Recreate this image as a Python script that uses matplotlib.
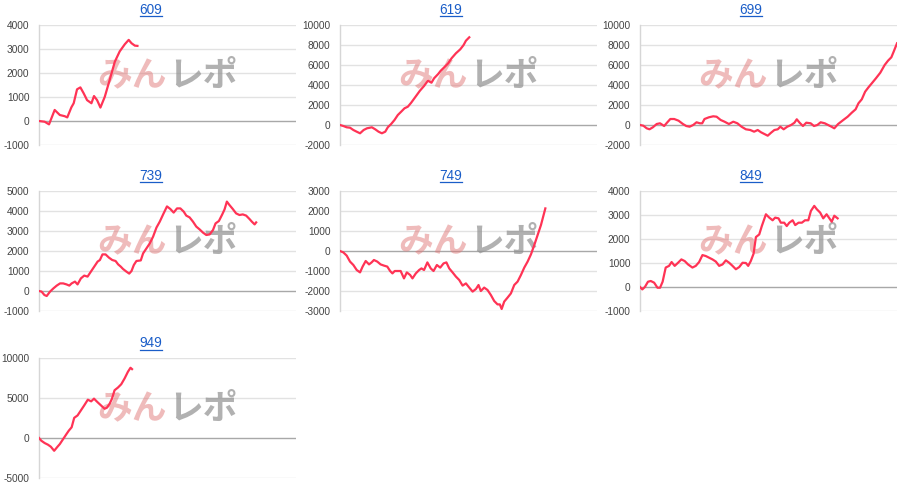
import numpy as np
import matplotlib.pyplot as plt
from matplotlib.lines import Line2D

plt.rcParams['font.family'] = ['Liberation Sans', 'DejaVu Sans']
plt.rcParams['axes.unicode_minus'] = False

# 台番号ごとの差枚推移 (x: 0-100 の相対ゲーム位置)
titles = ["609", "619", "699", "739", "749", "849", "949"]

x_609 = [0, 2.2, 3.9, 6.1, 8.1, 10.0, 11.0, 12.6, 13.5, 14.8, 16.1, 17.4, 18.7,
         20.4, 21.4, 22.6, 23.9, 25.6, 27.5, 29.5, 31.4, 33.4, 34.9, 36.0, 37.3, 38.3]
y_609 = [0, -30, -140, 460, 250, 200, 150, 570, 740, 1320, 1400, 1150, 870,
         740, 1040, 870, 560, 1010, 1710, 2470, 2900, 3200, 3380, 3240, 3140, 3130]

x_619 = [0, 1.3, 2.6, 3.9, 5.2, 6.5, 7.8, 9.2, 10.5, 12.4, 13.7, 15.0, 16.3, 17.6,
         18.6, 19.9, 21.2, 22.5, 23.8, 25.1, 26.4, 27.7, 29.4, 31.1, 32.7, 34.2,
         35.6, 36.6, 38.2, 39.2, 40.8, 42.1, 43.4, 45.1, 46.8, 48.1, 49.0, 50.3]
y_619 = [0, -100, -230, -270, -500, -670, -830, -500, -330, -230, -430, -670, -830, -670,
         -230, 100, 500, 1000, 1330, 1670, 1830, 2230, 2830, 3430, 3900, 4430,
         4230, 4670, 5100, 5430, 5830, 6170, 6670, 7170, 7570, 8000, 8430, 8770]

x_699 = [0, 1.3, 2.6, 3.7, 5.0, 6.5, 7.8, 9.4, 10.5, 11.8, 13.3, 15.0, 16.7, 18.0,
         19.3, 20.7, 22.0, 23.3, 24.2, 25.1, 26.8, 28.5, 29.8, 31.4, 32.9, 34.6,
         36.3, 37.9, 39.5, 41.2, 42.9, 44.4, 45.8, 47.1, 48.4, 49.7, 51.0, 52.3,
         53.6, 54.6, 55.9, 57.3, 58.8, 60.1, 61.0, 62.1, 63.4, 64.7, 66.4, 67.7,
         69.0, 70.3, 71.9, 73.2, 74.5, 75.6, 77.1, 79.1, 80.8, 82.4, 83.9, 85.0,
         86.3, 87.6, 88.9, 90.2, 91.8, 93.5, 95.2, 96.5, 97.8, 98.7, 100]
y_699 = [0, -70, -330, -430, -230, 100, 170, -100, 230, 600, 600, 430, 100, -100,
         -170, 0, 270, 170, 170, 600, 770, 870, 830, 500, 330, 100,
         330, 170, -170, -430, -500, -670, -500, -730, -900, -1070, -770, -500,
         -430, -170, -430, -170, 0, 230, 570, 230, -100, 230, 170, -100,
         0, 270, 170, 0, -170, -330, 100, 500, 830, 1230, 1570, 2170,
         2570, 3330, 3770, 4170, 4670, 5230, 6000, 6430, 6770, 7330, 8170]

x_739 = [0, 1.0, 2.1, 3.0, 4.3, 5.6, 6.9, 8.2, 9.4, 10.7, 11.8, 12.7, 14.0, 15.0,
         16.3, 17.6, 18.9, 20.2, 21.5, 22.8, 23.7, 24.7, 25.9, 27.2, 28.5, 29.8,
         30.8, 31.8, 32.7, 34.0, 35.1, 36.0, 36.9, 37.9, 39.6, 40.5, 41.8, 43.1,
         44.4, 45.7, 47.0, 48.3, 49.8, 51.1, 52.4, 53.7, 55.0, 56.3, 57.3, 58.6,
         59.9, 61.2, 62.5, 63.8, 65.1, 66.4, 67.7, 68.7, 70.0, 71.3, 72.2, 73.1,
         74.1, 75.4, 76.7, 78.0, 79.3, 80.6, 81.9, 82.8, 83.9, 84.5]
y_739 = [0, -30, -200, -250, -30, 130, 270, 380, 380, 330, 270, 380, 470, 330,
         630, 770, 720, 970, 1220, 1470, 1550, 1830, 1830, 1670, 1550, 1500,
         1330, 1220, 1100, 970, 870, 1000, 1300, 1500, 1530, 1880, 2130, 2380,
         2720, 3170, 3470, 3830, 4230, 4100, 3920, 4130, 4130, 3970, 3770, 3680,
         3470, 3220, 3080, 2920, 2800, 2830, 3050, 3380, 3500, 3830, 4080, 4470,
         4300, 4100, 3880, 3800, 3830, 3770, 3600, 3470, 3330, 3430]

x_749 = [0, 1.3, 2.6, 3.9, 5.2, 6.5, 7.8, 8.8, 10.0, 11.3, 12.3, 13.2, 14.5, 15.8,
         17.1, 18.4, 19.5, 20.4, 21.3, 22.6, 23.6, 24.9, 26.0, 27.3, 28.2, 29.5,
         30.8, 31.7, 32.7, 34.0, 35.3, 36.4, 37.7, 39.0, 40.3, 41.4, 42.5, 43.8,
         45.1, 46.4, 47.7, 49.0, 50.3, 51.6, 52.9, 53.9, 54.8, 56.1, 57.4, 58.7,
         60.0, 61.3, 62.2, 62.9, 63.9, 65.2, 66.5, 67.8, 69.1, 70.4, 71.7, 73.0,
         74.3, 75.6, 76.9, 78.2, 79.9]
y_749 = [0, -70, -230, -530, -700, -950, -1070, -780, -500, -670, -570, -450, -530, -670,
         -730, -780, -1000, -1120, -1000, -1000, -1000, -1370, -1070, -1200, -1370, -1120,
         -950, -870, -950, -570, -870, -1000, -700, -830, -620, -570, -870, -1070,
         -1280, -1450, -1730, -1620, -1830, -2030, -1900, -1700, -2000, -1830, -1950, -2200,
         -2500, -2670, -2670, -2900, -2530, -2330, -2120, -1700, -1530, -1200, -830, -530,
         -170, 300, 800, 1300, 2130]

x_849 = [0, 0.9, 1.9, 3.1, 4.2, 5.5, 6.8, 7.8, 8.8, 10.0, 11.3, 12.3, 13.5, 14.8,
         16.1, 17.4, 18.7, 20.4, 21.7, 23.0, 24.3, 25.6, 26.9, 28.2, 29.5, 30.8,
         32.1, 33.4, 34.7, 36.0, 37.3, 38.6, 39.9, 41.2, 42.1, 43.1, 44.2, 45.1,
         46.4, 47.4, 49.0, 50.3, 51.6, 52.6, 53.9, 54.8, 56.1, 57.1, 58.1, 59.4,
         60.4, 61.7, 63.0, 64.2, 65.5, 66.5, 67.8, 68.8, 70.1, 71.3, 72.6, 73.7,
         74.6, 75.6, 76.9]
y_849 = [0, -100, 0, 220, 250, 180, -30, -30, 220, 810, 880, 1040, 880, 1010,
         1150, 1080, 940, 810, 880, 1040, 1330, 1290, 1220, 1150, 1060, 880,
         940, 1110, 1010, 880, 740, 830, 1010, 1000, 880, 1080, 1390, 2080,
         2190, 2540, 3030, 2890, 2780, 2890, 2860, 2680, 2680, 2540, 2680, 2780,
         2580, 2680, 2680, 2780, 2780, 3170, 3380, 3240, 3100, 2860, 3030, 2860,
         2720, 2970, 2860]

x_949 = [0, 0.9, 2.2, 3.5, 4.6, 5.9, 7.2, 8.1, 9.4, 10.7, 11.6, 12.7, 13.7, 15.0,
         16.3, 17.6, 19.0, 20.3, 21.4, 22.7, 24.1, 25.5, 26.4, 27.5, 28.4, 29.4,
         30.7, 32.0, 33.3, 34.6, 35.6, 36.2]
y_949 = [0, -340, -630, -840, -1090, -1600, -1090, -760, -130, 500, 920, 1340, 2520, 2820,
         3450, 4080, 4790, 4580, 4920, 4500, 4080, 3660, 3780, 4290, 4920, 5970,
         6300, 6720, 7440, 8280, 8780, 8610]

xs = [x_609, x_619, x_699, x_739, x_749, x_849, x_949]
ys = [y_609, y_619, y_699, y_739, y_749, y_849, y_949]

# y軸の範囲と目盛り間隔
y_ranges = [(-1000, 4000, 1000), (-2000, 10000, 2000), (-2000, 10000, 2000),
            (-1000, 5000, 1000), (-3000, 3000, 1000), (-1000, 4000, 1000),
            (-5000, 10000, 5000)]

W, H = 900, 498
fig = plt.figure(figsize=(W / 100, H / 100), dpi=100)

col_left = [39, 340, 640]
row_top = [25, 191, 358]
title_y = [10, 176, 343]
aw, ah = 257, 120

line_color = "#ff3355"
link_color = "#1a5dc8"
wm_font = ["Noto Sans CJK JP", "DejaVu Sans"]

title_texts = []
for i, name in enumerate(titles):
    r, c = divmod(i, 3)
    left = col_left[c]
    top = row_top[r]
    ax = fig.add_axes([left / W, 1 - (top + ah) / H, aw / W, ah / H])

    lo, hi, step = y_ranges[i]
    ticks = np.arange(lo, hi + step, step)
    ax.set_ylim(lo, hi)
    ax.set_xlim(0, 100)
    ax.set_yticks(ticks)
    ax.set_yticklabels([str(int(t)) for t in ticks])
    ax.set_xticks([])
    ax.tick_params(axis="y", length=0, pad=7, labelsize=7.3, labelcolor="#444444")

    for t in ticks:
        if t == 0:
            ax.axhline(t, color="#a8a8a8", linewidth=1, zorder=1)
        else:
            ax.axhline(t, color="#e2e2e2", linewidth=1, zorder=1)

    for s in ["top", "right", "bottom"]:
        ax.spines[s].set_visible(False)
    ax.spines["left"].set_color("#d6d6d6")
    ax.spines["left"].set_linewidth(1)

    # ウォーターマーク
    ax.text(0.497, 0.58, "みん", transform=ax.transAxes, ha="right", va="center",
            fontsize=25, fontweight="bold", color="#e07878", alpha=0.5,
            family=wm_font, zorder=2)
    ax.text(0.503, 0.58, "レポ", transform=ax.transAxes, ha="left", va="center",
            fontsize=25, fontweight="bold", color="#909090", alpha=0.7,
            family=wm_font, zorder=2)

    ax.plot(xs[i], ys[i], color=line_color, linewidth=1.6, zorder=3,
            solid_joinstyle="round")

    t = fig.text((c * 300 + 151) / W, 1 - title_y[r] / H, name, ha="center",
                 va="center", fontsize=9.8, color=link_color)
    title_texts.append(t)

# タイトルの下線(リンク風)
fig.canvas.draw()
renderer = fig.canvas.get_renderer()
for t in title_texts:
    bb = t.get_window_extent(renderer)
    y = (bb.y0 + 0.5) / H
    fig.add_artist(Line2D([bb.x0 / W, bb.x1 / W], [y, y], color=link_color,
                          linewidth=0.9, transform=fig.transFigure))

fig.savefig("out.png", dpi=100)
